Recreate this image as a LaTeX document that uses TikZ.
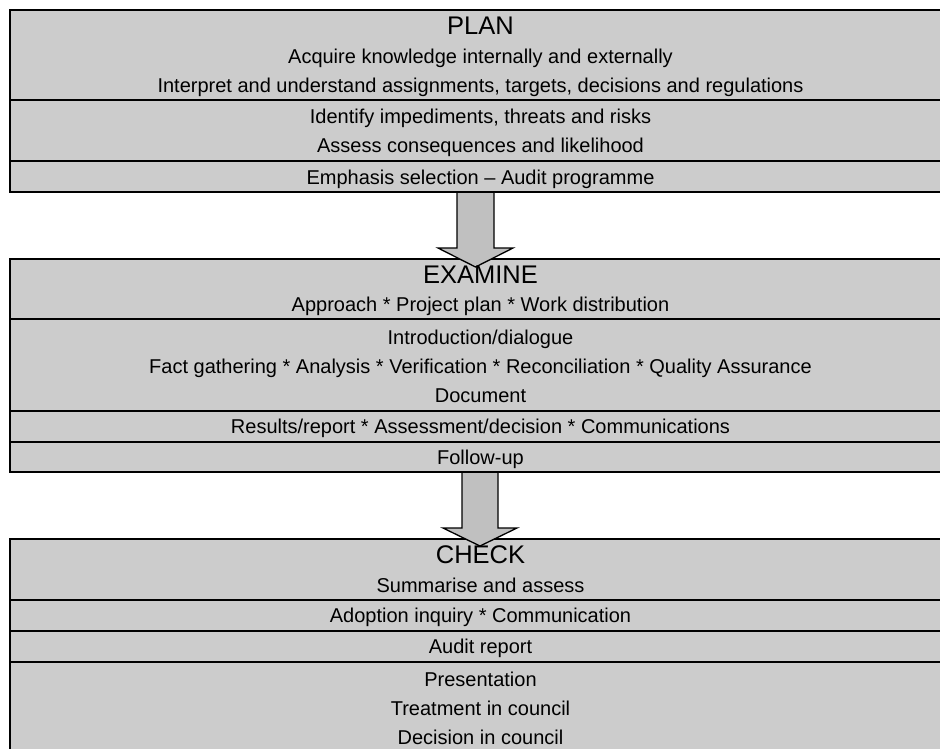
\documentclass[tikz,border=0pt]{standalone}
\usepackage{fontspec}
\setmainfont{Liberation Sans}
\definecolor{boxgray}{HTML}{CCCCCC}
\definecolor{arrowgray}{HTML}{C0C0C0}
\begin{document}
\begin{tikzpicture}[x=1pt,y=-1pt,
  band/.style={draw=black, line width=2pt, fill=boxgray, anchor=north west,
    minimum width=940pt, inner sep=0pt, outer sep=0pt},
  blockarrow/.style={draw=black, line width=1.3pt, fill=arrowgray, line join=miter},
  txt/.style={anchor=base, inner sep=0pt, font=\fontsize{20}{24}\selectfont},
  ttl/.style={anchor=base, inner sep=0pt, font=\fontsize{25.5}{30}\selectfont}]
\useasboundingbox (0,0) rectangle (940,748);
% PLAN block
\node[band, minimum height=89.5pt] (pA) at (10,10) {};
\node[band, minimum height=61.2pt] (pB) at (10,99.5) {};
\node[band, minimum height=31.6pt] (pC) at (10,160.7) {};
% EXAMINE block
\node[band, minimum height=60pt] (eA) at (10,259) {};
\node[band, minimum height=92pt] (eB) at (10,319) {};
\node[band, minimum height=30.7pt] (eC) at (10,411) {};
\node[band, minimum height=30.6pt] (eD) at (10,441.7) {};
% CHECK block
\node[band, minimum height=61pt] (cA) at (10,539) {};
\node[band, minimum height=30.7pt] (cB) at (10,600) {};
\node[band, minimum height=31pt] (cC) at (10,630.7) {};
\node[band, minimum height=100pt] (cD) at (10,661.7) {};
% block arrows
\draw[blockarrow] (457,192.3) -- (494,192.3) -- (494,248) -- (513,248)
  -- (475.5,267) -- (438,248) -- (457,248) -- cycle;
\draw[blockarrow] (462,472.3) -- (498,472.3) -- (498,528) -- (517,528)
  -- (480,546) -- (443,528) -- (462,528) -- cycle;
% texts
\node[ttl] (t1) at (480.5,34) {PLAN};
\node[txt] (t2) at (480.5,63.5) {Acquire knowledge internally and externally};
\node[txt] (t3) at (480.5,92.5) {Interpret and understand assignments, targets, decisions and regulations};
\node[txt] (t4) at (480.5,123) {Identify impediments, threats and risks};
\node[txt] (t5) at (480.5,152.5) {Assess consequences and likelihood};
\node[txt] (t6) at (480.5,184) {Emphasis selection – Audit programme};
\node[ttl] (t7) at (480.5,283.5) {EXAMINE};
\node[txt] (t8) at (480.5,311.5) {Approach * Project plan * Work distribution};
\node[txt] (t9) at (480.5,344) {Introduction/dialogue};
\node[txt] (t10) at (480.5,373) {Fact gathering * Analysis * Verification * Reconciliation * Quality Assurance};
\node[txt] (t11) at (480.5,402) {Document};
\node[txt] (t12) at (480.5,433) {Results/report * Assessment/decision * Communications};
\node[txt] (t13) at (480.5,464) {Follow-up};
\node[ttl] (t14) at (480.5,563.5) {CHECK};
\node[txt] (t15) at (480.5,592) {Summarise and assess};
\node[txt] (t16) at (480.5,622.5) {Adoption inquiry * Communication};
\node[txt] (t17) at (480.5,653) {Audit report};
\node[txt] (t18) at (480.5,686) {Presentation};
\node[txt] (t19) at (480.5,715) {Treatment in council};
\node[txt] (t20) at (480.5,744) {Decision in council};
\end{tikzpicture}
\end{document}
